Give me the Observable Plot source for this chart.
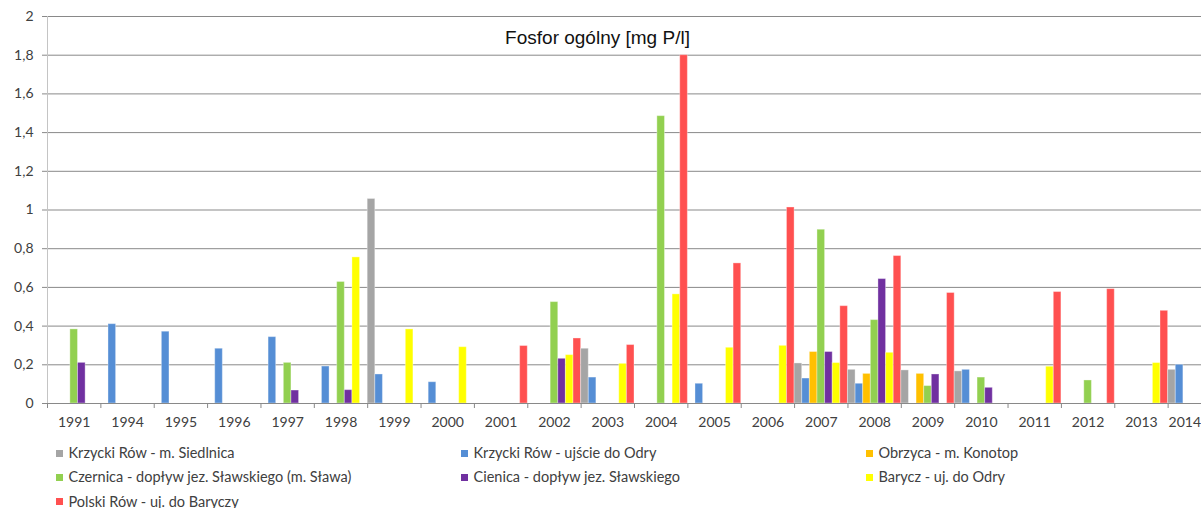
<!DOCTYPE html>
<html><head><meta charset="utf-8">
<script src="https://cdn.jsdelivr.net/npm/d3@7"></script>
<script src="https://cdn.jsdelivr.net/npm/@observablehq/plot@0.6"></script>
<style>
html,body{margin:0;padding:0;overflow:hidden;background:#fff;}
#wrap{position:relative;width:1201px;height:508px;overflow:hidden;}
#chart{position:absolute;left:0;top:0;width:1221px;}
#chart svg{max-width:none !important;}
#legend{position:absolute;left:0;top:0;width:1201px;height:508px;font-family:Lato,sans-serif;font-size:14.5px;color:#404040;}
.item{position:absolute;white-space:nowrap;display:flex;align-items:center;height:20px;line-height:20px;}
.sw{width:7px;height:7px;margin-right:5.5px;flex:none;}
</style></head><body>
<div id="wrap"><div id="chart"></div><div id="legend"></div></div>
<script>
const years = ["1991","1994","1995","1996","1997","1998","1999","2000","2001","2002","2003","2004","2005","2006","2007","2008","2009","2010","2011","2012","2013","2014"];
const seriesNames = [
  "Krzycki Rów - m. Siedlnica",
  "Krzycki Rów - ujście do Odry",
  "Obrzyca - m. Konotop",
  "Czernica - dopływ jez. Sławskiego (m. Sława)",
  "Cienica - dopływ jez. Sławskiego",
  "Barycz - uj. do Odry",
  "Polski Rów - uj. do Baryczy"
];
const seriesColors = ["#A5A5A5","#558ED5","#FFC000","#92D050","#7030A0","#FFFF00","#FF5050"];
//                   1991  1994  1995  1996  1997  1998  1999  2000  2001  2002  2003  2004  2005  2006  2007  2008  2009  2010  2011  2012  2013  2014
const krzyckiSiedlnica = [null, null, null, null, null, null, 1.057,null, null, null, 0.283,null, null, null, 0.207,0.174,0.171,0.166,null, null, null, 0.174];
const krzyckiOdra      = [null, 0.41, 0.371,0.283,0.343,0.191,0.15, 0.11, null, null, 0.134,null, 0.102,null, 0.129,0.102,null, 0.174,null, null, null, 0.2];
const obrzyca          = [null, null, null, null, null, null, null, null, null, null, null, null, null, null, 0.266,0.153,0.153,null, null, null, null, null];
const czernica         = [0.383,null, null, null, 0.21, 0.628,null, null, null, 0.524,null, 1.485,null, null, 0.898,0.431,0.09, 0.134,null, 0.119,null, null];
const cienica          = [0.21, null, null, null, 0.067,0.069,null, null, null, 0.231,null, null, null, null, 0.266,0.643,0.15, 0.081,null, null, null, null];
const barycz           = [null, null, null, null, null, 0.755,0.383,0.291,null, 0.25, 0.205,0.564,0.288,0.298,0.209,0.262,null, null, 0.19, null, 0.209,null];
const polskiRow        = [null, null, null, null, null, null, null, null, 0.297,0.336,0.302,1.8,  0.724,1.013,0.503,0.762,0.571,null, 0.576,0.591,0.479,null];
const yTicks = [0, 0.2, 0.4, 0.6, 0.8, 1, 1.2, 1.4, 1.6, 1.8, 2];
const chartTitle = "Fosfor ogólny [mg P/l]";

const seriesValues = [krzyckiSiedlnica, krzyckiOdra, obrzyca, czernica, cienica, barycz, polskiRow];
const rows = [];
years.forEach((yr, i) => seriesNames.forEach((s, j) => {
  rows.push({key: yr + "|" + j, year: yr, series: s, value: seriesValues[j][i]});
}));
const keys = rows.map(d => d.key);

const W = 1221, H = 440, ML = 47, MT = 16, MB = H - 403;
const slot = (W - ML) / keys.length;
const lastYear = years[years.length - 1];

const plot = Plot.plot({
  width: W, height: H,
  marginLeft: ML, marginRight: 0, marginTop: MT, marginBottom: MB,
  style: {fontFamily: "Lato, sans-serif", fontSize: "14px", color: "#404040", background: "transparent", maxWidth: "none"},
  x: {type: "band", domain: keys, padding: 0, axis: null},
  y: {domain: [0, 2], axis: null},
  color: {domain: seriesNames, range: seriesColors},
  marks: [
    Plot.gridY(yTicks, {stroke: "#898989", strokeOpacity: 1, insetLeft: -5}),
    Plot.ruleX([keys[0]], {x: d => d, y1: 0, y2: 2, dx: -slot / 2, stroke: "#c4c4c4"}),
    Plot.barY(rows.filter(d => d.value != null), {x: "key", y: "value", fill: "series", stroke: "white", strokeOpacity: 0.35, strokeWidth: 1}),
    Plot.ruleY([0], {stroke: "#898989"}),
    Plot.axisY(yTicks, {label: null, tickSize: 0, tickPadding: 14, tickFormat: d => String(d).replace(".", ","), fontSize: 14}),
    Plot.axisX(years.filter(y => y !== lastYear).map(y => y + "|3"), {label: null, tickSize: 0, tickPadding: 14, tickFormat: k => k.split("|")[0], fontSize: 14}),
    Plot.axisX([lastYear + "|3"], {label: null, tickSize: 0, tickPadding: 14, tickFormat: k => k.split("|")[0], fontSize: 14, dx: -10}),
    Plot.axisX(years.map(y => y + "|0"), {label: null, tickSize: 5, tickFormat: () => "", dx: -slot / 2, stroke: "#898989"}),
    Plot.text([chartTitle], {frameAnchor: "top", dx: -37, dy: 27, lineAnchor: "bottom", fontFamily: "Liberation Sans, Arial, sans-serif", fontSize: 19, fill: "#111"})
  ]
});
document.getElementById("chart").appendChild(plot);

const legend = document.getElementById("legend");
const legendCols = [56, 461, 866];
const legendRows = [453, 477, 501.5];
seriesNames.forEach((s, j) => {
  const el = document.createElement("div");
  el.className = "item";
  el.style.left = legendCols[j % 3] + "px";
  el.style.top = (legendRows[Math.floor(j / 3)] - 10) + "px";
  el.innerHTML = `<span class="sw" style="background:${seriesColors[j]}"></span><span>${s}</span>`;
  legend.appendChild(el);
});
</script>
</body></html>
